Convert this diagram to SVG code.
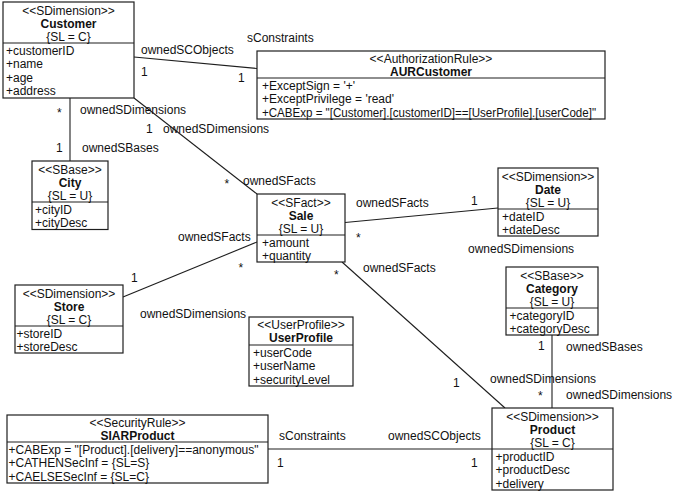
<svg xmlns="http://www.w3.org/2000/svg" width="675" height="492" viewBox="0 0 675 492">
<style>
.bg{fill:#fff}
.box{fill:#fff;stroke:#1e1e1e;stroke-width:1.2}
.div{stroke:#1e1e1e;stroke-width:1.2}
.edge{stroke:#1e1e1e;stroke-width:1.1;fill:none}
text{font-family:"Liberation Sans",Arial,Helvetica,sans-serif;font-size:12px;fill:#111}
.c{text-anchor:middle}
.b{font-weight:bold}
</style>
<rect class="bg" x="0" y="0" width="675" height="492"/>
<g id="connectors">
<line class="edge" x1="134" y1="57" x2="257" y2="68.5"/>
<line class="edge" x1="70" y1="98" x2="70" y2="161"/>
<line class="edge" x1="134" y1="98" x2="257" y2="194"/>
<line class="edge" x1="345" y1="222.5" x2="498" y2="208"/>
<line class="edge" x1="257" y1="242" x2="123" y2="297"/>
<line class="edge" x1="342" y1="262" x2="505" y2="408"/>
<line class="edge" x1="552" y1="335" x2="552" y2="408"/>
<line class="edge" x1="268" y1="449" x2="492" y2="449"/>
<g id="edge-labels">
<text x="247" y="41.5">sConstraints</text>
<text x="141" y="54">ownedSCObjects</text>
<text x="141" y="75.5">1</text>
<text x="238" y="81.5">1</text>
<text x="57" y="116.5">*</text>
<text x="80" y="114">ownedSDimensions</text>
<text x="56" y="152">1</text>
<text x="82" y="152">ownedSBases</text>
<text x="146" y="133">1</text>
<text x="163" y="133">ownedSDimensions</text>
<text x="224.5" y="188">*</text>
<text x="243" y="184.5">ownedSFacts</text>
<text x="356" y="207">ownedSFacts</text>
<text x="471" y="205">1</text>
<text x="356" y="241.5">*</text>
<text x="468" y="252.5">ownedSDimensions</text>
<text x="178" y="241">ownedSFacts</text>
<text x="363" y="271.5">ownedSFacts</text>
<text x="238.5" y="271.5">*</text>
<text x="334" y="279">*</text>
<text x="131" y="281.5">1</text>
<text x="140" y="318">ownedSDimensions</text>
<text x="538" y="350">1</text>
<text x="566" y="350.5">ownedSBases</text>
<text x="490" y="383">ownedSDimensions</text>
<text x="538" y="400">*</text>
<text x="566" y="399">ownedSDimensions</text>
<text x="453" y="387">1</text>
<text x="279" y="439.5">sConstraints</text>
<text x="388" y="440">ownedSCObjects</text>
<text x="277" y="467">1</text>
<text x="471" y="467">1</text>
</g>
</g>
<g id="Customer">
<rect class="box" x="3" y="2" width="131" height="96"/>
<line class="div" x1="3" y1="43" x2="134" y2="43"/>
<text class="c" x="68.5" y="14.5">&lt;&lt;SDimension&gt;&gt;</text>
<text class="c b" x="68.5" y="27.5">Customer</text>
<text class="c" x="68.5" y="40.5">{SL = C}</text>
<text x="6" y="54.5">+customerID</text>
<text x="6" y="68">+name</text>
<text x="6" y="81.5">+age</text>
<text x="6" y="95">+address</text>
</g>
<g id="AURCustomer">
<rect class="box" x="257" y="51" width="348" height="68"/>
<line class="div" x1="257" y1="78" x2="605" y2="78"/>
<text class="c" x="431" y="63">&lt;&lt;AuthorizationRule&gt;&gt;</text>
<text class="c b" x="431" y="76">AURCustomer</text>
<text x="262" y="89.5">+ExceptSign = '+'</text>
<text x="262" y="103">+ExceptPrivilege = 'read'</text>
<text x="262" y="116.5" textLength="334" lengthAdjust="spacingAndGlyphs">+CABExp = "[Customer].[customerID]==[UserProfile].[userCode]"</text>
</g>
<g id="City">
<rect class="box" x="32" y="161" width="76" height="68.5"/>
<line class="div" x1="32" y1="202" x2="108" y2="202"/>
<text class="c" x="70" y="173.5">&lt;&lt;SBase&gt;&gt;</text>
<text class="c b" x="70" y="186.5">City</text>
<text class="c" x="70" y="199.5">{SL = U}</text>
<text x="35" y="213.5">+cityID</text>
<text x="35" y="227">+cityDesc</text>
</g>
<g id="Sale">
<rect class="box" x="257" y="194" width="88" height="68"/>
<line class="div" x1="257" y1="235" x2="345" y2="235"/>
<text class="c" x="301" y="206.5">&lt;&lt;SFact&gt;&gt;</text>
<text class="c b" x="301" y="219.5">Sale</text>
<text class="c" x="301" y="232.5">{SL = U}</text>
<text x="262" y="246.5">+amount</text>
<text x="262" y="260">+quantity</text>
</g>
<g id="Date">
<rect class="box" x="498" y="168" width="100" height="68"/>
<line class="div" x1="498" y1="209" x2="598" y2="209"/>
<text class="c" x="548" y="180.5">&lt;&lt;SDimension&gt;&gt;</text>
<text class="c b" x="548" y="193.5">Date</text>
<text class="c" x="548" y="206.5">{SL = U}</text>
<text x="502" y="220.5">+dateID</text>
<text x="502" y="234">+dateDesc</text>
</g>
<g id="Store">
<rect class="box" x="15" y="285" width="108" height="68"/>
<line class="div" x1="15" y1="326" x2="123" y2="326"/>
<text class="c" x="69" y="297.5">&lt;&lt;SDimension&gt;&gt;</text>
<text class="c b" x="69" y="310.5">Store</text>
<text class="c" x="69" y="323.5">{SL = C}</text>
<text x="16.5" y="337.5">+storeID</text>
<text x="16.5" y="351">+storeDesc</text>
</g>
<g id="UserProfile">
<rect class="box" x="249" y="317" width="104" height="69"/>
<line class="div" x1="249" y1="345" x2="353" y2="345"/>
<text class="c" x="301" y="329">&lt;&lt;UserProfile&gt;&gt;</text>
<text class="c b" x="301" y="342">UserProfile</text>
<text x="253" y="356.5">+userCode</text>
<text x="253" y="370">+userName</text>
<text x="253" y="383.5">+securityLevel</text>
</g>
<g id="Category">
<rect class="box" x="506" y="267" width="92" height="68"/>
<line class="div" x1="506" y1="308" x2="598" y2="308"/>
<text class="c" x="552" y="279.5">&lt;&lt;SBase&gt;&gt;</text>
<text class="c b" x="552" y="292.5">Category</text>
<text class="c" x="552" y="305.5">{SL = U}</text>
<text x="509.5" y="319.5">+categoryID</text>
<text x="509.5" y="333">+categoryDesc</text>
</g>
<g id="Product">
<rect class="box" x="492" y="408" width="121" height="82"/>
<line class="div" x1="492" y1="449" x2="613" y2="449"/>
<text class="c" x="552.5" y="420.5">&lt;&lt;SDimension&gt;&gt;</text>
<text class="c b" x="552.5" y="433.5">Product</text>
<text class="c" x="552.5" y="446.5">{SL = C}</text>
<text x="495.5" y="460.5">+productID</text>
<text x="495.5" y="474">+productDesc</text>
<text x="495.5" y="487.5">+delivery</text>
</g>
<g id="SIARProduct">
<rect class="box" x="7" y="415" width="261" height="68"/>
<line class="div" x1="7" y1="442" x2="268" y2="442"/>
<text class="c" x="137.5" y="427">&lt;&lt;SecurityRule&gt;&gt;</text>
<text class="c b" x="137.5" y="440">SIARProduct</text>
<text x="8.5" y="453.5">+CABExp = "[Product].[delivery]==anonymous"</text>
<text x="8.5" y="467">+CATHENSecInf = {SL=S}</text>
<text x="8.5" y="480.5">+CAELSESecInf = {SL=C}</text>
</g>
</svg>
